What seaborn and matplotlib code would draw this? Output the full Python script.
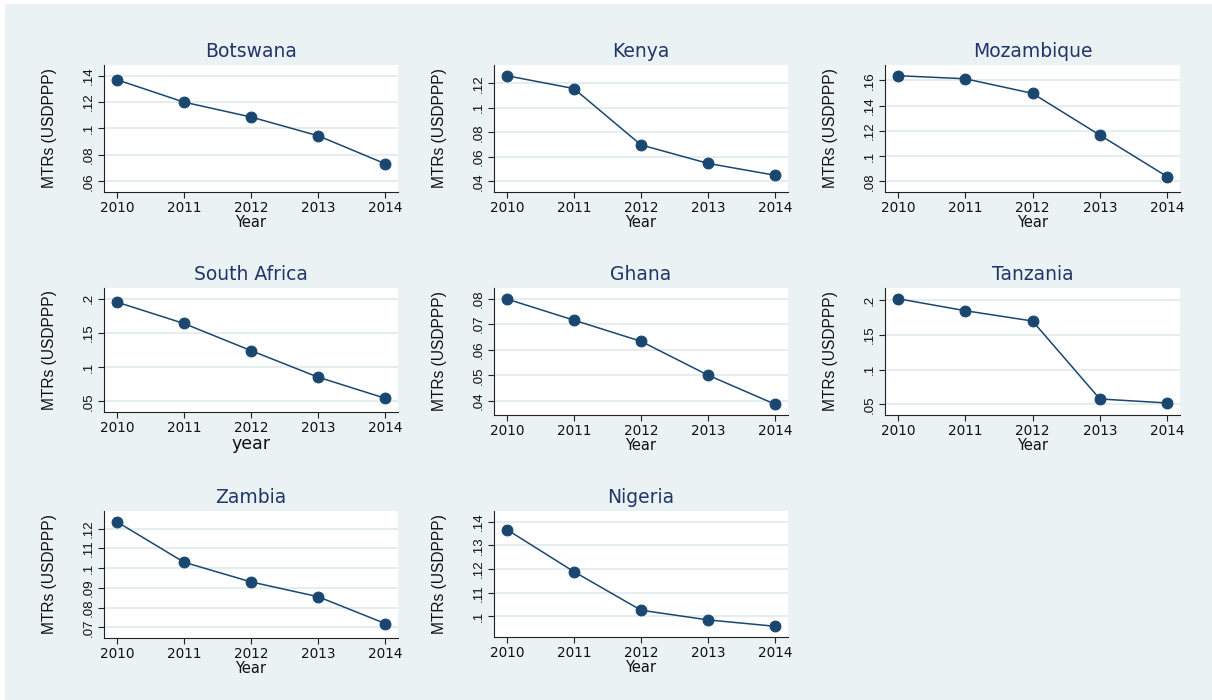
import matplotlib
matplotlib.use("Agg")
import matplotlib.pyplot as plt
from matplotlib.patches import Rectangle
import numpy as np
import pandas as pd
import seaborn as sns

# ---- data -------------------------------------------------------------
years = [2010, 2011, 2012, 2013, 2014]

botswana = [0.1370, 0.1200, 0.1087, 0.0945, 0.0733]
kenya = [0.1262, 0.1157, 0.0697, 0.0546, 0.0449]
mozambique = [0.1637, 0.1613, 0.1497, 0.1166, 0.0837]
south_africa = [0.1951, 0.1638, 0.1241, 0.0853, 0.0544]
ghana = [0.0799, 0.0716, 0.0633, 0.0500, 0.0386]
tanzania = [0.2024, 0.1851, 0.1702, 0.0577, 0.0519]
zambia = [0.1235, 0.1030, 0.0930, 0.0855, 0.0719]
nigeria = [0.1367, 0.1189, 0.1026, 0.0985, 0.0958]

botswana_ticks = [0.06, 0.08, 0.10, 0.12, 0.14]
kenya_ticks = [0.04, 0.06, 0.08, 0.10, 0.12]
mozambique_ticks = [0.08, 0.10, 0.12, 0.14, 0.16]
south_africa_ticks = [0.05, 0.10, 0.15, 0.20]
ghana_ticks = [0.04, 0.05, 0.06, 0.07, 0.08]
tanzania_ticks = [0.05, 0.10, 0.15, 0.20]
zambia_ticks = [0.07, 0.08, 0.09, 0.10, 0.11, 0.12]
nigeria_ticks = [0.10, 0.11, 0.12, 0.13, 0.14]

y_title = "MTRs (USDPPP)"

# ---- style ------------------------------------------------------------
sns.set_theme(style="white")
plt.rcParams["font.family"] = ["DejaVu Sans"]

W, H = 1212, 700
BG = "#EAF2F3"
NAVY = "#1A476F"
TITLE_C = "#22356A"
GRID_C = "#E3ECEE"

fig = plt.figure(figsize=(W / 100, H / 100), dpi=100)
fig.patch.set_facecolor("white")
fig.patches.append(Rectangle((5 / W, 0), 1 - 5 / W, 1 - 4 / H,
                             transform=fig.transFigure, facecolor=BG,
                             edgecolor="none", zorder=-10))

# panel boxes in pixels: left, top, right, bottom
panels = [
    ("Botswana", botswana, botswana_ticks, (104, 65, 398, 192), "Year", 10.5),
    ("Kenya", kenya, kenya_ticks, (494, 65, 788, 192), "Year", 10.5),
    ("Mozambique", mozambique, mozambique_ticks, (885, 65, 1180, 192), "Year", 10.5),
    ("South Africa", south_africa, south_africa_ticks, (104, 288, 398, 412), "year", 12.5),
    ("Ghana", ghana, ghana_ticks, (494, 288, 788, 415), "Year", 10.5),
    ("Tanzania", tanzania, tanzania_ticks, (885, 288, 1180, 415), "Year", 10.5),
    ("Zambia", zambia, zambia_ticks, (104, 511, 398, 638), "Year", 10.5),
    ("Nigeria", nigeria, nigeria_ticks, (494, 511, 788, 637), "Year", 10.5),
]


def fmt(v):
    s = f"{v:g}"
    return s[1:] if s.startswith("0.") else s


MARGIN_PX = 10.7
for name, vals, ticks, (l, t, r, b), xl, xl_size in panels:
    ax = fig.add_axes([l / W, 1 - b / H, (r - l) / W, (b - t) / H])
    ax.set_facecolor("white")
    df = pd.DataFrame({"Year": years, "MTR": vals})
    sns.lineplot(data=df, x="Year", y="MTR", ax=ax, color=NAVY,
                 linewidth=1.1, marker="o", markersize=7.8,
                 markeredgecolor=NAVY, markerfacecolor=NAVY, zorder=3)

    lo = min(min(vals), min(ticks))
    hi = max(max(vals), max(ticks))
    hpx = b - t
    pad = (hi - lo) * MARGIN_PX / (hpx - 2 * MARGIN_PX)
    ax.set_ylim(lo - pad, hi + pad)
    ax.set_xlim(years[0] - 0.19, years[-1] + 0.19)

    ax.set_xticks(years)
    ax.set_xticklabels([str(y) for y in years], fontsize=9.8)
    ax.set_yticks(ticks)
    ax.set_yticklabels([fmt(v) for v in ticks], rotation=90,
                       family="Liberation Sans", fontsize=9.6, va="center")

    ax.grid(axis="y", color=GRID_C, linewidth=1.3, zorder=0)
    ax.grid(axis="x", visible=False)
    for s in ("top", "right"):
        ax.spines[s].set_visible(False)
    for s in ("left", "bottom"):
        ax.spines[s].set_color("#222222")
        ax.spines[s].set_linewidth(0.8)
    ax.tick_params(axis="both", which="major", direction="out", length=4,
                   width=0.8, color="#222222", labelcolor="#111111", pad=2.5)
    ax.tick_params(axis="x", bottom=True)
    ax.tick_params(axis="y", left=True)

    ax.set_title(name, fontsize=13.5, color=TITLE_C, pad=6)
    ax.set_xlabel(xl, fontsize=xl_size, color="#111111", labelpad=0)
    ax.set_ylabel(y_title, family="Liberation Sans", fontsize=11.2,
                  color="#111111", labelpad=19)

fig.savefig("out.png", dpi=100, facecolor=fig.get_facecolor())
